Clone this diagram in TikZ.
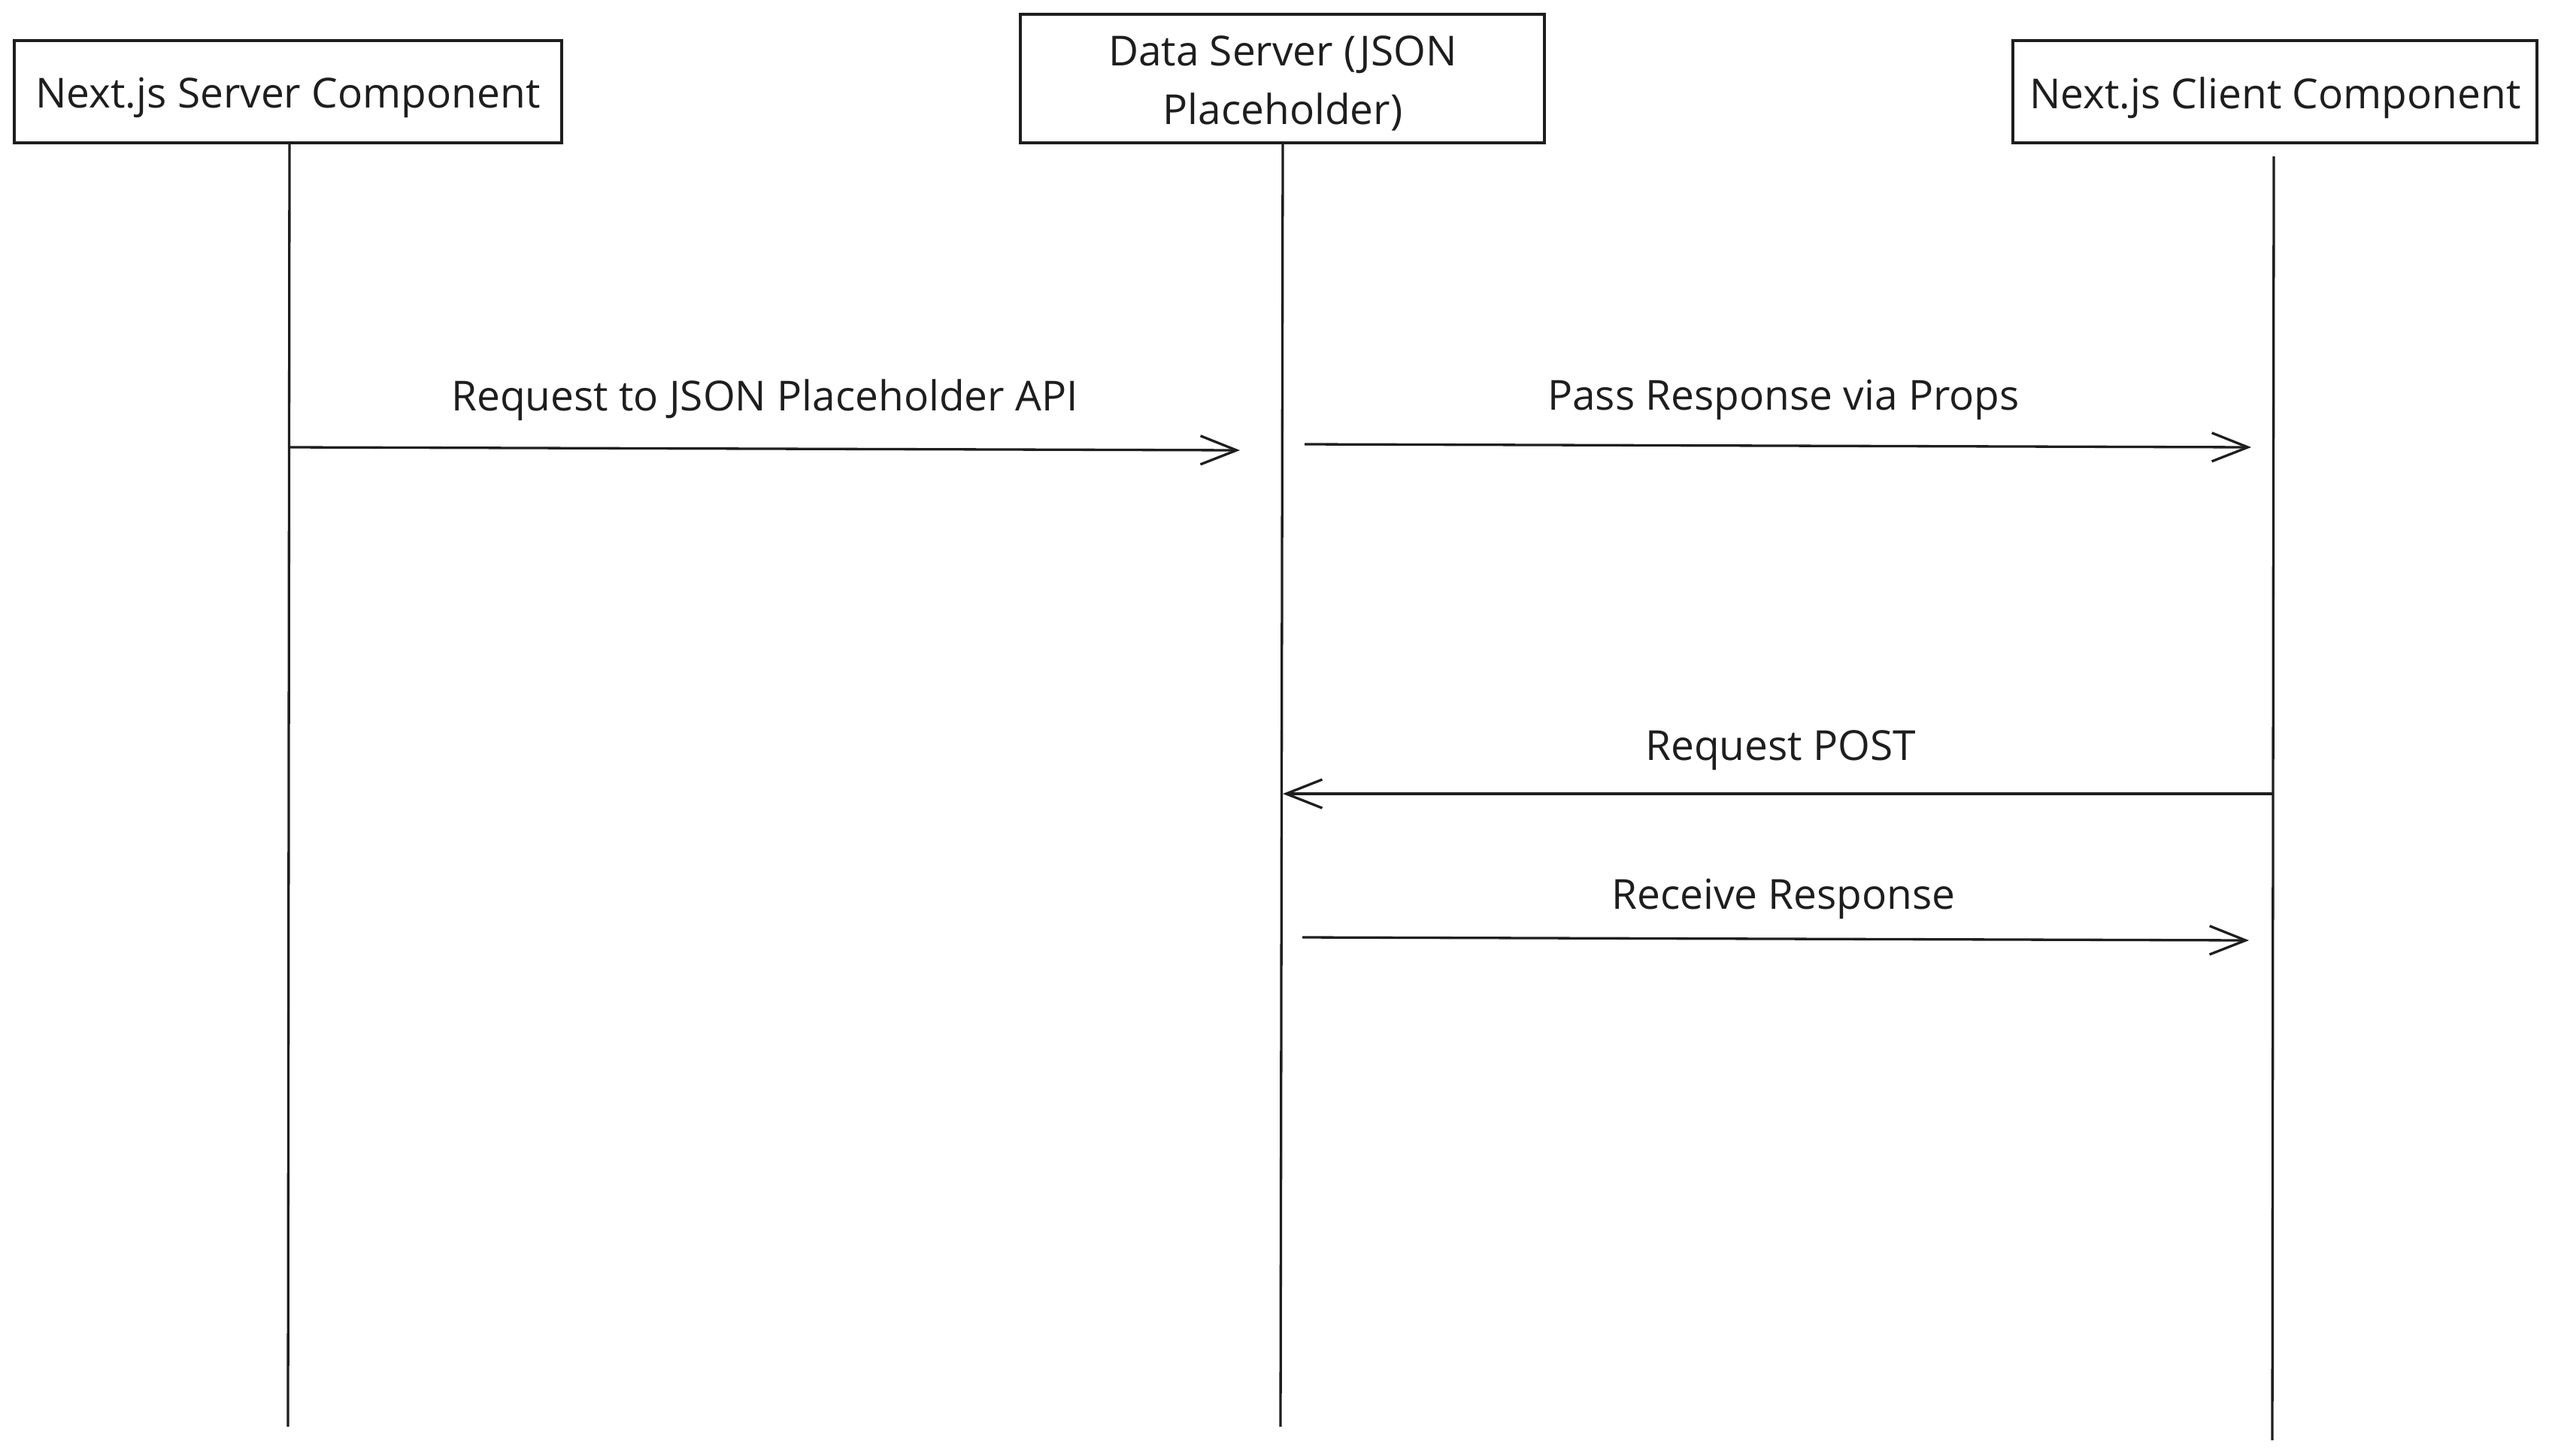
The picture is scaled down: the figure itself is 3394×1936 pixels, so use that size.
\documentclass[tikz,border=0pt]{standalone}
\usepackage{fontspec}
\setmainfont{Open Sans}
\usetikzlibrary{arrows.meta}
\definecolor{ink}{HTML}{1E1E1E}
\tikzset{
  actor/.style={draw=ink, line width=3.5pt, fill=white, inner sep=0pt},
  lifeline/.style={draw=ink, line width=3.3pt},
  msg/.style={draw=ink, line width=3.3pt, -{Straight Barb[length=48pt,width=38pt]}},
  msglabel/.style={text=ink, font=\fontsize{55}{78}\selectfont, inner sep=0pt}
}
\begin{document}
\begin{tikzpicture}[x=1pt,y=-1pt]
\useasboundingbox (0,0) rectangle (3394,1936);
% actors
\node[actor, minimum width=728pt, minimum height=136pt] (srv) at (383,122) {};
\node[actor, minimum width=697pt, minimum height=171pt] (data) at (1705.5,104.5) {};
\node[actor, minimum width=697pt, minimum height=136pt] (cli) at (3025.5,122) {};
\node[msglabel] (srvt) at (383,130) {Next.js Server Component};
\node[msglabel, align=center] (datat) at (1706,111) {Data Server (JSON\\Placeholder)};
\node[msglabel] (clit) at (3026,130) {Next.js Client Component};
% lifeline ends
\coordinate (srvtop) at (385,190);
\coordinate (srvbot) at (383,1898);
\coordinate (datatop) at (1706,190);
\coordinate (databot) at (1703,1898);
\coordinate (clitop) at (3024,208);
\coordinate (clibot) at (3022,1916);
\draw[lifeline] (srvtop) -- (srvbot);
\draw[lifeline] (datatop) -- (databot);
\draw[lifeline] (clitop) -- (clibot);
% message end points
\coordinate (m1s) at (385,595);
\coordinate (m1e) at (1649,599);
\coordinate (m2s) at (1735,591);
\coordinate (m2e) at (2994,595);
\coordinate (m3s) at (3023,1056);
\coordinate (m3e) at (1706,1056);
\coordinate (m4s) at (1732,1247);
\coordinate (m4e) at (2991,1251);
\draw[msg] (m1s) -- (m1e);
\draw[msg] (m2s) -- (m2e);
\draw[msg] (m3s) -- (m3e);
\draw[msg] (m4s) -- (m4e);
% labels
\node[msglabel] (l1) at (1017,532) {Request to JSON Placeholder API};
\node[msglabel] (l2) at (2372,532) {Pass Response via Props};
\node[msglabel] (l3) at (2368,998) {Request POST};
\node[msglabel] (l4) at (2372,1196) {Receive Response};
\end{tikzpicture}
\end{document}
